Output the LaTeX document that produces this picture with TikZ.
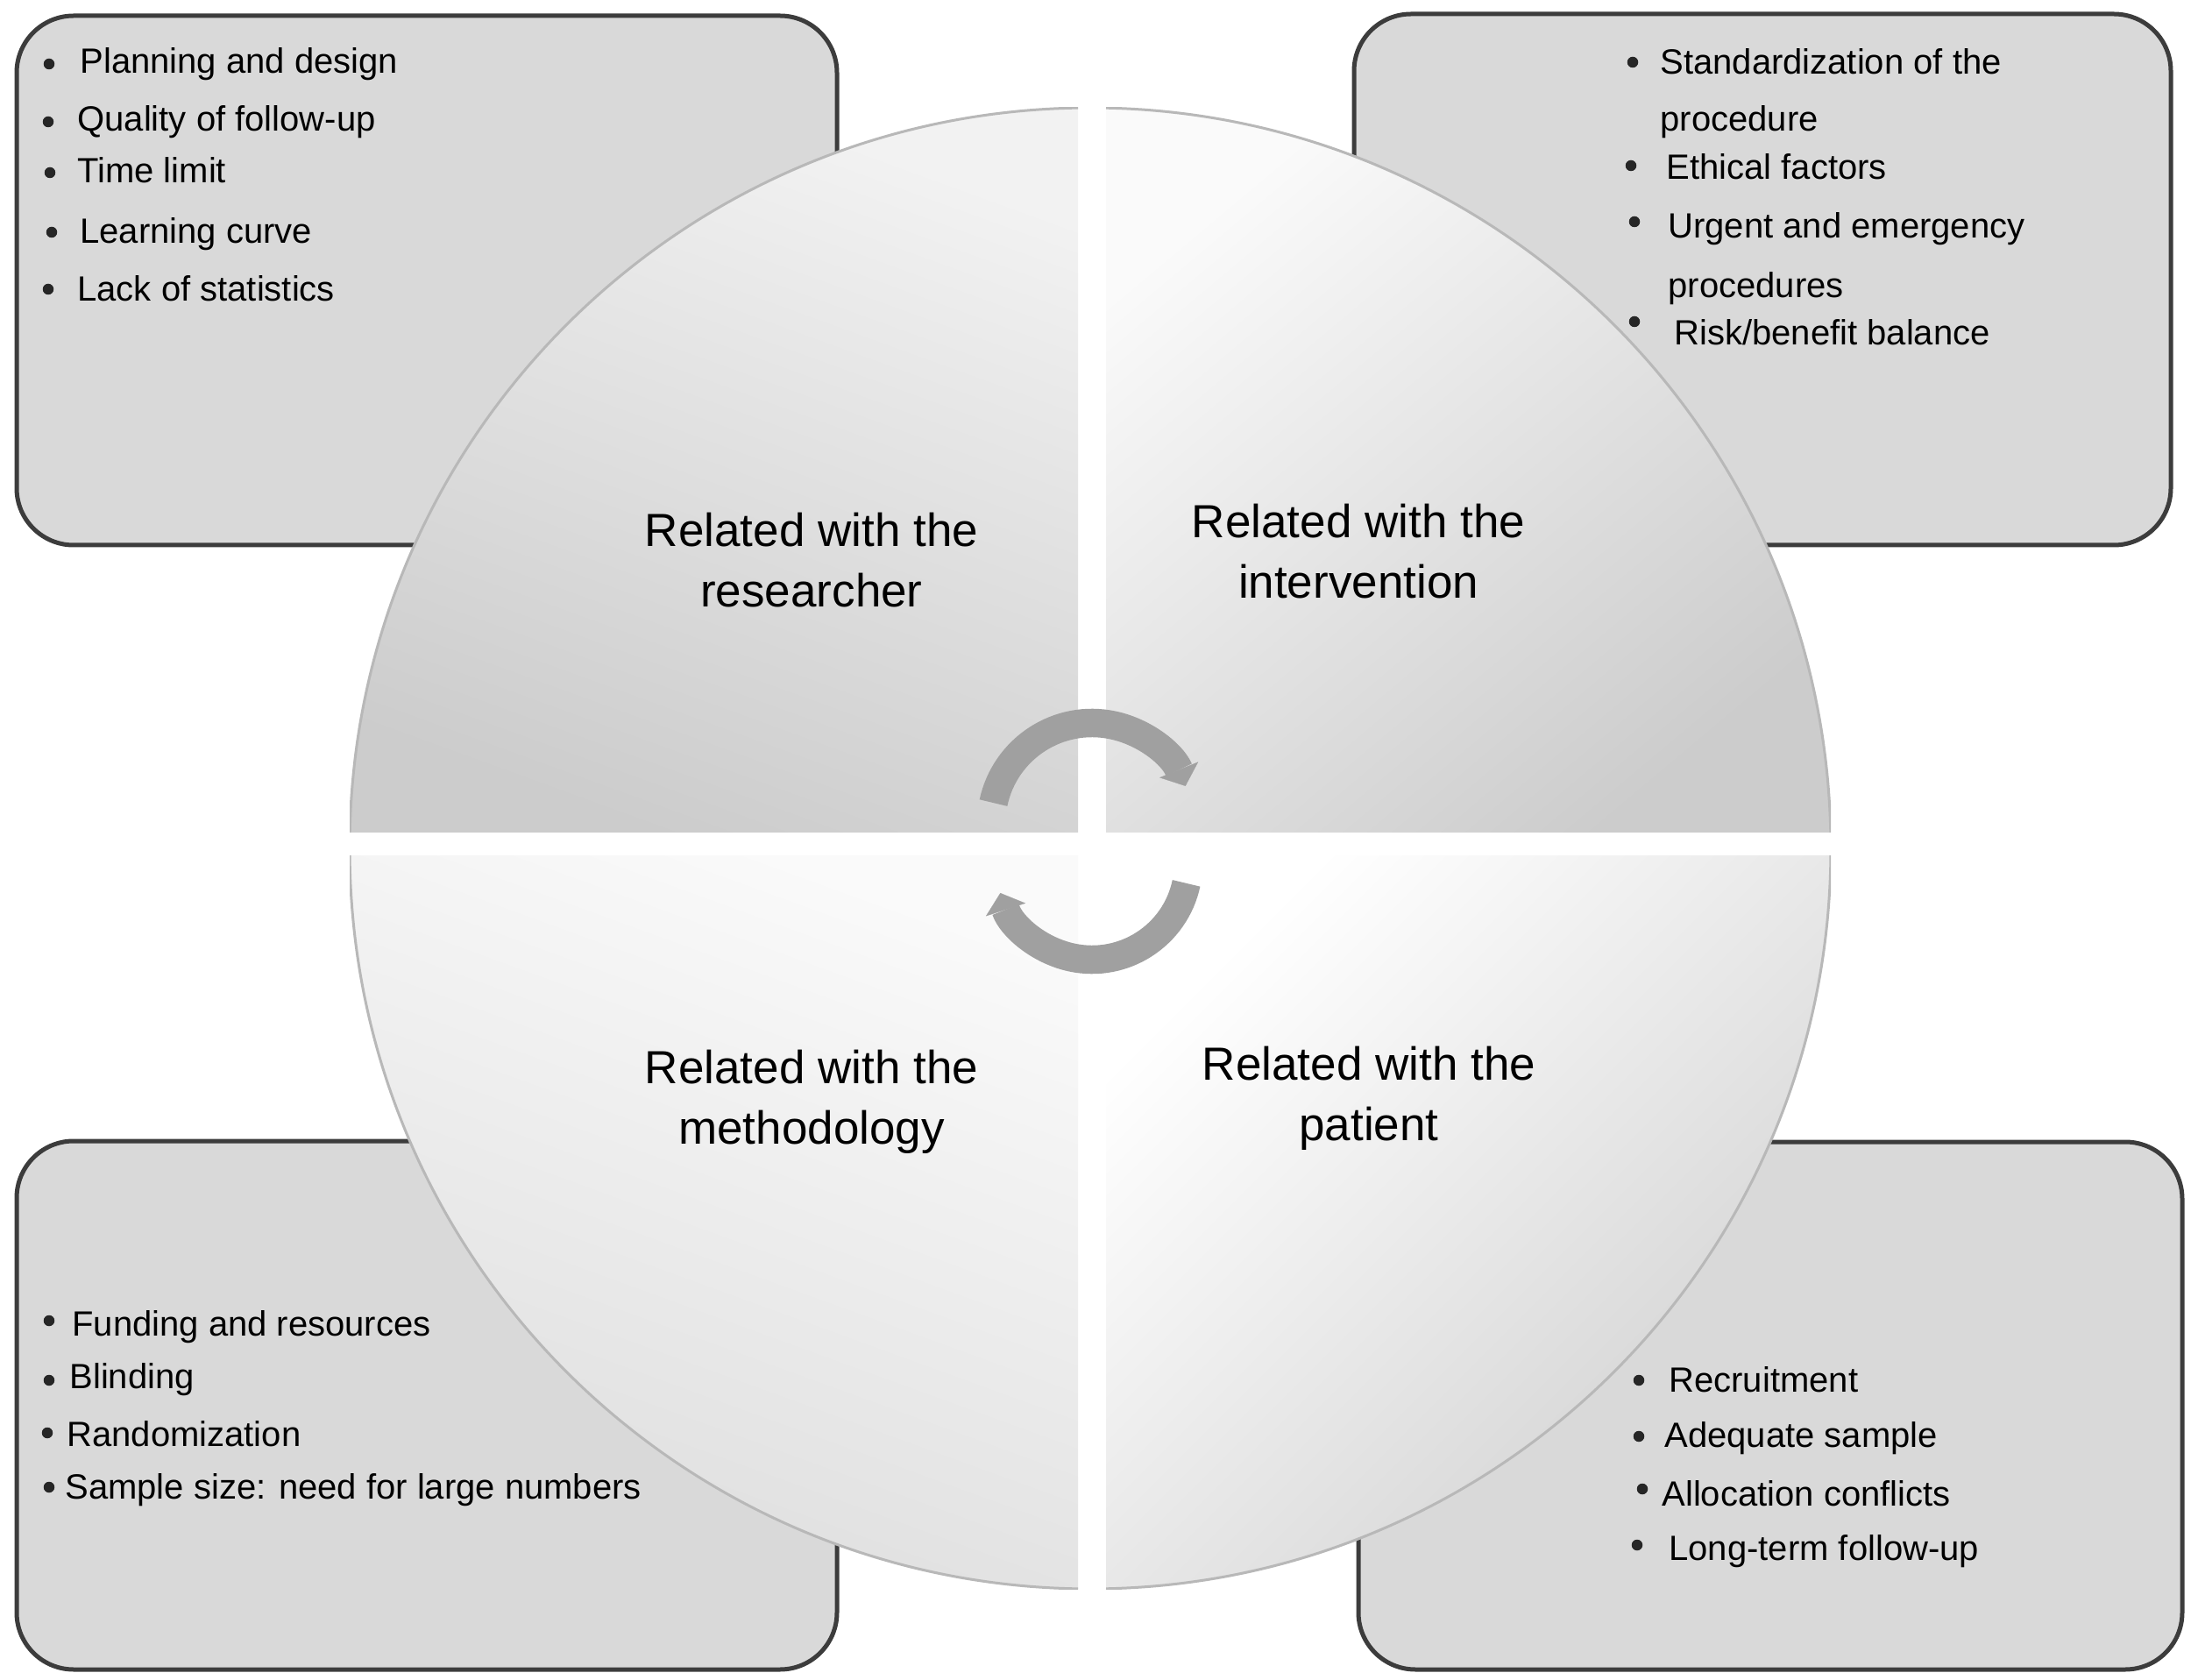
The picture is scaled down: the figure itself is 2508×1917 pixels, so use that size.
\documentclass[tikz,border=0pt]{standalone}
\usepackage{fontspec}
\setmainfont{Liberation Sans}
\usetikzlibrary{arrows.meta}
\definecolor{boxfill}{HTML}{D9D9D9}
\definecolor{boxline}{HTML}{3C3C3C}
\definecolor{arrowgray}{HTML}{A0A0A0}
\definecolor{rim}{HTML}{B8B8B8}
\begin{document}
\begin{tikzpicture}[x=0.4pt,y=-0.4pt,
  infobox/.style={draw=boxline, line width=2pt, fill=boxfill, rounded corners=26pt},
  itm/.style={anchor=base west, inner sep=0pt, font=\fontsize{16}{19}\selectfont, text=black},
  bul/.style={circle, fill=black!85, inner sep=0pt, minimum size=5pt},
  lbl/.style={align=center, inner sep=0pt, font=\fontsize{21.2}{27.6}\selectfont, text=black},
  cyc/.style={draw=arrowgray, line width=13pt, -{Triangle[length=8pt,width=19pt,line width=0.1pt]}}
]
\useasboundingbox (0,0) rectangle (2508,1917);
\fill[white] (0,0) rectangle (2508,1917);

% information boxes
\draw[infobox] (19,18) rectangle (955,622);
\draw[infobox] (1545,16) rectangle (2477,622);
\draw[infobox] (19,1302) rectangle (955,1905);
\draw[infobox] (1550,1303) rectangle (2490,1905);

% circle quadrants
\begin{scope}
  \clip (399,123) rectangle (1230,950);
  \begin{scope}
    \clip (1244,968) circle[radius=845];
    \shade[top color=white!95!black, bottom color=white!80!black, shading angle=-20] (399,123) rectangle (1230,950);
  \end{scope}
  \draw[rim, line width=1.2pt] (1244,968) circle[radius=845];
\end{scope}
\begin{scope}
  \clip (1262,123) rectangle (2089,950);
  \begin{scope}
    \clip (1244,968) circle[radius=845];
    \shade[top color=white!98!black, bottom color=white!80!black, shading angle=40] (1262,123) rectangle (2089,950);
  \end{scope}
  \draw[rim, line width=1.2pt] (1244,968) circle[radius=845];
\end{scope}
\begin{scope}
  \clip (399,977) rectangle (1230,1813);
  \begin{scope}
    \clip (1244,968) circle[radius=845];
    \shade[top color=white!98!black, bottom color=white!87!black, shading angle=-20] (399,977) rectangle (1230,1813);
  \end{scope}
  \draw[rim, line width=1.2pt] (1244,968) circle[radius=845];
\end{scope}
\begin{scope}
  \clip (1262,977) rectangle (2089,1813);
  \begin{scope}
    \clip (1244,968) circle[radius=845];
    \shade[top color=white, bottom color=white!82!black, shading angle=45] (1262,977) rectangle (2089,1813);
  \end{scope}
  \draw[rim, line width=1.2pt] (1244,968) circle[radius=845];
\end{scope}

% cycle arrows
\coordinate (topc) at (1246,940);
\coordinate (botc) at (1246,985);
\draw[cyc] (topc) ++(192:115) arc[start angle=192, end angle=338, radius=115];
\draw[cyc] (botc) ++(12:110) arc[start angle=12, end angle=162, radius=110];

% quadrant labels
\node[lbl] (researcher) at (926,639) {Related with the\\researcher};
\node[lbl] (intervention) at (1550,629) {Related with the\\intervention};
\node[lbl] (methodology) at (926,1257) {Related with the\\methodology};
\node[lbl] (patient) at (1562,1253) {Related with the\\patient};

% top-left list
\node[bul] (b11) at (56,73) {};
\node[itm] (t11) at (91,84) {Planning and design};
\node[bul] (b12) at (55,139) {};
\node[itm] (t12) at (88,150) {Quality of follow-up};
\node[bul] (b13) at (57,197) {};
\node[itm] (t13) at (88,209) {Time limit};
\node[bul] (b14) at (59,265) {};
\node[itm] (t14) at (91,278) {Learning curve};
\node[bul] (b15) at (55,330) {};
\node[itm] (t15) at (88,344) {Lack of statistics};

% top-right list
\node[bul] (b21) at (1863,71) {};
\node[itm] (t21) at (1894,85) {Standardization of the};
\node[itm] (t21b) at (1894,150) {procedure};
\node[bul] (b22) at (1861,189) {};
\node[itm] (t22) at (1901,205) {Ethical factors};
\node[bul] (b23) at (1865,253) {};
\node[itm] (t23) at (1903,272) {Urgent and emergency};
\node[itm] (t23b) at (1903,340) {procedures};
\node[bul] (b24) at (1865,367) {};
\node[itm] (t24) at (1910,394) {Risk/benefit balance};

% bottom-left list
\node[bul] (b31) at (56,1507) {};
\node[itm] (t31) at (82,1524) {Funding and resources};
\node[bul] (b32) at (56,1575) {};
\node[itm] (t32) at (79,1584) {Blinding};
\node[bul] (b33) at (54,1635) {};
\node[itm] (t33) at (76,1650) {Randomization};
\node[bul] (b34) at (56,1697) {};
\node[itm] (t34) at (74,1710) {Sample size: need for large numbers};

% bottom-right list
\node[bul] (b41) at (1870,1575) {};
\node[itm] (t41) at (1904,1588) {Recruitment};
\node[bul] (b42) at (1870,1639) {};
\node[itm] (t42) at (1899,1651) {Adequate sample};
\node[bul] (b43) at (1874,1699) {};
\node[itm] (t43) at (1896,1718) {Allocation conflicts};
\node[bul] (b44) at (1868,1763) {};
\node[itm] (t44) at (1904,1780) {Long-term follow-up};
\end{tikzpicture}
\end{document}
